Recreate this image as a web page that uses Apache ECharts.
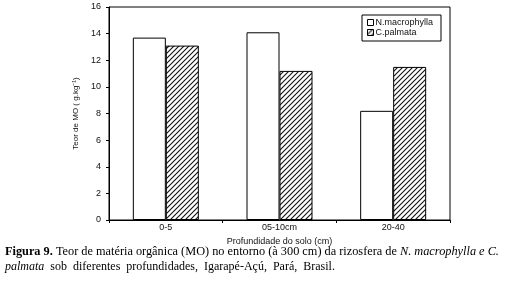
<!DOCTYPE html>
<html>
<head>
<meta charset="utf-8">
<script src="https://cdn.jsdelivr.net/npm/echarts@6/dist/echarts.min.js"></script>
<style>
  html, body { margin: 0; padding: 0; background: #fff; }
  #chart { width: 506px; height: 281px; }
</style>
</head>
<body>
<div id="chart"></div>
<script>
const categories = ['0-5', '05-10cm', '20-40'];
const macrophylla = [13.7, 14.1, 8.2];
const palmata = [13.1, 11.2, 11.5];
const seriesNames = ['N.macrophylla', 'C.palmata'];

// diagonal hatch used for C.palmata bars and its legend icon
function hatch() {
    const c = document.createElement('canvas');
    c.width = 5; c.height = 5;
    const g = c.getContext('2d');
    g.fillStyle = '#fff';
    g.fillRect(0, 0, 5, 5);
    g.strokeStyle = '#111';
    g.lineWidth = 1.1;
    g.beginPath();
    g.moveTo(-1, 6); g.lineTo(6, -1);
    g.moveTo(-1, 1); g.lineTo(1, -1);
    g.moveTo(4, 6); g.lineTo(6, 4);
    g.stroke();
    return c;
}

const sans = 'Liberation Sans, Arial, sans-serif';
const serif = 'Liberation Serif, Times New Roman, serif';

const chart = echarts.init(document.getElementById('chart'), null, { renderer: 'canvas' });

chart.setOption({
    animation: false,
    grid: {
        left: 109, right: 56, top: 7, bottom: 61,
        show: true, borderColor: '#000', borderWidth: 1
    },
    legend: {
        data: seriesNames,
        orient: 'vertical',
        left: 367, top: 18,
        itemWidth: 6, itemHeight: 6, itemGap: 1,
        padding: 0,
        icon: 'rect',
        itemStyle: { borderWidth: 1 },
        textStyle: { fontFamily: sans, fontSize: 9, color: '#111', padding: [0, 0, 0, -3] }
    },
    xAxis: {
        type: 'category',
        data: categories,
        name: 'Profundidade do solo (cm)',
        nameLocation: 'middle',
        nameGap: 17,
        nameTextStyle: { fontFamily: sans, fontSize: 9, color: '#111' },
        axisLine: { lineStyle: { color: '#000', width: 1 } },
        axisTick: { show: true, length: 3, lineStyle: { color: '#000' } },
        axisLabel: { fontFamily: sans, fontSize: 9, color: '#111', margin: 3 }
    },
    yAxis: {
        type: 'value',
        min: 0, max: 16, interval: 2,
        name: 'Teor de MO ( g.kg⁻¹)',
        nameLocation: 'middle',
        nameGap: 24,
        nameRotate: 90,
        nameTextStyle: { fontFamily: sans, fontSize: 8, color: '#111' },
        axisLine: { show: true, lineStyle: { color: '#000', width: 1 } },
        axisTick: { show: true, length: 3, lineStyle: { color: '#000' } },
        axisLabel: { fontFamily: sans, fontSize: 9, color: '#111', margin: 8 },
        splitLine: { show: false }
    },
    series: [
        {
            name: seriesNames[0],
            type: 'bar',
            data: macrophylla,
            barWidth: 33,
            barGap: '0%',
            itemStyle: { color: '#fff', borderColor: '#000', borderWidth: 1 }
        },
        {
            name: seriesNames[1],
            type: 'bar',
            data: palmata,
            barWidth: 33,
            barGap: '0%',
            itemStyle: {
                color: { image: hatch(), repeat: 'repeat' },
                borderColor: '#000', borderWidth: 1
            }
        }
    ],
    graphic: [
        {
            type: 'rect',
            shape: { x: 362, y: 15, width: 79, height: 26 },
            style: { fill: 'none', stroke: '#000', lineWidth: 1 },
            z: 10
        },
        {
            type: 'text',
            left: 5, top: 246,
            style: {
                text: '{b|Figura 9.} Teor de matéria orgânica (MO) no entorno (à 300 cm) da rizosfera de {i|N. macrophylla e C.}',
                font: '12.3px ' + serif,
                fill: '#000',
                rich: {
                    b: { fontWeight: 'bold', fontFamily: serif, fontSize: 12.3 },
                    i: { fontStyle: 'italic', fontFamily: serif, fontSize: 12.3 }
                }
            }
        },
        {
            type: 'text',
            left: 5, top: 261,
            style: {
                text: '{i|palmata}  sob  diferentes  profundidades,  Igarapé-Açú,  Pará,  Brasil.',
                font: '12px ' + serif,
                fill: '#000',
                rich: {
                    i: { fontStyle: 'italic', fontFamily: serif, fontSize: 12 }
                }
            }
        }
    ]
});
</script>
</body>
</html>
